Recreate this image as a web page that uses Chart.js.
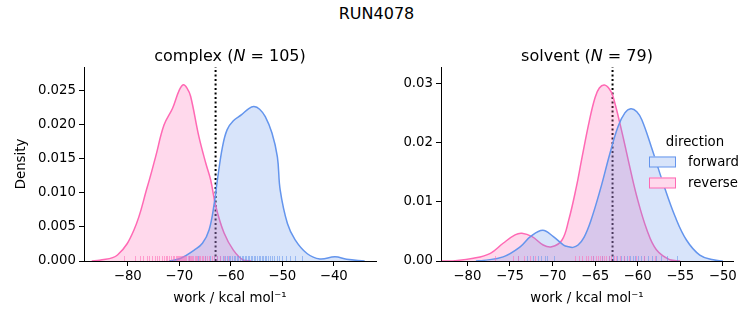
<!DOCTYPE html>
<html>
<head>
<meta charset="utf-8">
<script src="https://cdn.jsdelivr.net/npm/chart.js@4/dist/chart.umd.min.js"></script>
<style>
  body { margin: 0; background: #fff; }
  #wrap { position: relative; width: 753px; height: 325px; font-family: "DejaVu Sans", sans-serif; }
  #suptitle { position: absolute; left: 0; top: 4px; width: 753px; text-align: center; font-size: 16px; line-height: 19px; color: #000; }
  canvas { position: absolute; top: 0; }
</style>
</head>
<body>
<div id="wrap">
  <div id="suptitle">RUN4078</div>
  <canvas id="complex" width="380" height="325" style="left:0"></canvas>
  <canvas id="solvent" width="373" height="325" style="left:380px"></canvas>
</div>
<script>
// KDE of work values, complex leg
const complexFwdWork = [-72.0, -69.7, -67.1, -65.5, -64.2, -63.2, -62.6, -61.6, -60.7, -59.5, -57.9, -56.5, -55.5, -54.4, -53.3, -52.0, -50.95, -50.4, -49.0, -47.5, -45.2, -42.7, -39.75, -37.5, -34.0];
const complexFwdDensity = [0, 0.0004, 0.0016, 0.0026, 0.0046, 0.0085, 0.0119, 0.0168, 0.0193, 0.0206, 0.0215, 0.0224, 0.02268, 0.0223, 0.0212, 0.0188, 0.0153, 0.0104, 0.0055, 0.0031, 0.0011, 0.0003, 0.00063, 0.00025, 0];
const complexRevWork = [-87.0, -85.5, -82.0, -78.8, -76.2, -74.6, -72.95, -71.3, -70.0, -69.2, -68.5, -67.8, -66.2, -64.85, -63.9, -62.9, -61.3, -59.5, -57.5, -56.0];
const complexRevDensity = [0, 0.0001, 0.00088, 0.00456, 0.0109, 0.0153, 0.0200, 0.02245, 0.0251, 0.02588, 0.0254, 0.0242, 0.0183, 0.01436, 0.0119, 0.0080, 0.0041, 0.0016, 0.0001, 0];

// KDE of work values, solvent leg
const solventFwdWork = [-79.0, -78.1, -75.8, -73.8, -72.6, -71.15, -69.9, -68.7, -68.1, -67.6, -67.0, -66.3, -65.5, -64.4, -63.25, -62.3, -61.5, -60.8, -60.1, -59.5, -58.4, -57.0, -55.6, -54.25, -52.7, -51.1, -50.0];
const solventFwdDensity = [0, 0.0001, 0.0007, 0.0024, 0.0041, 0.0052, 0.0041, 0.0027, 0.0024, 0.0023, 0.0027, 0.0040, 0.0068, 0.0120, 0.0182, 0.0227, 0.0250, 0.0257, 0.0252, 0.0238, 0.0193, 0.0131, 0.0075, 0.0035, 0.0010, 0.0002, 0];
const solventRevWork = [-83.0, -81.6, -79.3, -77.3, -75.8, -74.4, -73.6, -72.4, -71.1, -70.1, -68.9, -68.1, -67.2, -66.6, -65.7, -65.0, -64.5, -63.9, -63.3, -62.9, -61.9, -61.1, -60.1, -58.9, -57.8, -56.2, -55.0];
const solventRevDensity = [0, 0.00005, 0.00045, 0.0013, 0.0030, 0.0044, 0.00467, 0.0041, 0.0027, 0.0024, 0.0035, 0.0069, 0.0125, 0.0170, 0.0235, 0.0276, 0.0292, 0.0297, 0.0290, 0.0278, 0.0221, 0.0170, 0.0109, 0.0052, 0.0019, 0.0002, 0];

// individual work samples (rug)
const complexFwdRug = [-68.2, -66.4, -65.0, -64.1, -63.3, -62.6, -62.1, -61.6, -61.2, -60.8, -60.4, -60.1, -59.7, -59.4, -59.1, -58.8, -58.5, -58.2, -57.9, -57.6, -57.3, -57.0, -56.7, -56.4, -56.1, -55.8, -55.5, -55.2, -54.9, -54.6, -54.3, -54.0, -53.7, -53.4, -53.1, -52.8, -52.4, -52.0, -51.6, -51.1, -50.6, -50.0, -49.3, -48.5, -47.6, -46.2];
const complexRevRug = [-80.8, -78.6, -77.6, -77.0, -76.3, -75.8, -75.3, -74.8, -74.4, -73.9, -73.4, -73.0, -72.6, -72.3, -71.9, -71.6, -71.3, -71.0, -70.7, -70.5, -70.2, -70.0, -69.8, -69.6, -69.4, -69.2, -69.0, -68.8, -68.6, -68.4, -68.2, -68.0, -67.8, -67.5, -67.3, -67.0, -66.8, -66.5, -66.2, -65.9, -65.6, -65.3, -65.0, -64.6, -64.2, -63.7, -63.2, -62.6, -62.0, -61.3, -60.5];
const solventFwdRug = [-74.0, -73.0, -72.3, -71.7, -71.3, -70.9, -70.6, -69.8, -65.3, -64.2, -63.4, -62.9, -62.4, -62.0, -61.6, -61.2, -60.9, -60.6, -60.3, -60.0, -59.6, -59.2, -58.8, -58.3, -57.8, -57.2, -56.5, -55.4];
const solventRevRug = [-76.8, -74.6, -74.0, -73.4, -72.6, -72.1, -67.4, -66.9, -66.5, -66.1, -65.8, -65.5, -65.2, -64.9, -64.7, -64.4, -64.2, -63.9, -63.7, -63.4, -63.1, -62.8, -62.5, -62.1, -61.6, -61.0, -60.2, -59.2, -58.0];

// free energy estimate (dotted line)
const complexEstimate = -62.95;
const solventEstimate = -62.95;

const complexXTicks = [-80, -70, -60, -50, -40];
const complexYTicks = [0, 0.005, 0.010, 0.015, 0.020, 0.025];
const solventXTicks = [-80, -75, -70, -65, -60, -55, -50];
const solventYTicks = [0, 0.01, 0.02, 0.03];

const FWD = 'rgb(100,149,237)';
const REV = 'rgb(255,105,180)';
const FWD_FILL = 'rgba(100,149,237,0.25)';
const REV_FILL = 'rgba(255,105,180,0.25)';
const FWD_RUG = 'rgba(100,149,237,0.55)';
const REV_RUG = 'rgba(255,105,180,0.55)';
const FONT = {family: 'DejaVu Sans', size: 13.3};

function pts(xs, ys) {
  return xs.map((x, i) => ({x: x, y: ys[i]}));
}

function curve(xs, ys, line, fill, label) {
  return {
    label: label,
    data: pts(xs, ys),
    showLine: true,
    borderColor: line,
    backgroundColor: fill,
    borderWidth: 1.5,
    pointRadius: 0,
    tension: 0.4,
    fill: 'origin',
  };
}

// rugs, subplot title and the legend box
const extras = {
  id: 'extras',
  afterDatasetsDraw(chart, args, opts) {
    const {ctx, chartArea, scales} = chart;
    ctx.save();
    ctx.lineWidth = 1;
    opts.rugs.forEach((r) => {
      ctx.strokeStyle = r.color;
      r.values.forEach((v) => {
        const x = Math.round(scales.x.getPixelForValue(v)) + 0.5;
        ctx.beginPath();
        ctx.moveTo(x, chartArea.bottom);
        ctx.lineTo(x, chartArea.bottom - 5);
        ctx.stroke();
      });
    });
    ctx.restore();
  },
  afterDraw(chart, args, opts) {
    const {ctx, chartArea} = chart;
    ctx.save();
    ctx.fillStyle = '#000';
    ctx.textBaseline = 'alphabetic';
    const parts = [[opts.name + ' (', ''], ['N', 'italic '], [' = ' + opts.n + ')', '']];
    let total = 0;
    parts.forEach((p) => {
      ctx.font = p[1] + '16px "DejaVu Sans"';
      total += ctx.measureText(p[0]).width;
    });
    let x = (chartArea.left + chartArea.right) / 2 - total / 2;
    parts.forEach((p) => {
      ctx.font = p[1] + '16px "DejaVu Sans"';
      ctx.fillText(p[0], x, 60.5);
      x += ctx.measureText(p[0]).width;
    });

    if (opts.legend) {
      const lx = chartArea.right - 84;
      ctx.font = '13.3px "DejaVu Sans"';
      ctx.textAlign = 'center';
      ctx.fillText('direction', lx + 46, 146);
      ctx.textAlign = 'left';
      [['forward', FWD, FWD_FILL, 156.5], ['reverse', REV, REV_FILL, 177.5]].forEach((e) => {
        ctx.fillStyle = '#fff';
        ctx.fillRect(lx, e[3], 27, 10.5);
        ctx.fillStyle = e[2];
        ctx.fillRect(lx, e[3], 27, 10.5);
        ctx.strokeStyle = e[1];
        ctx.lineWidth = 1;
        ctx.strokeRect(lx + 0.5, e[3] + 0.5, 26, 10);
        ctx.fillStyle = '#000';
        ctx.fillText(e[0], lx + 39, e[3] + 9.5);
      });
    }
    ctx.restore();
  },
};

function axis(min, max, ticks, fmt, size, title, titlePad) {
  return {
    type: 'linear',
    min: min,
    max: max,
    afterBuildTicks: (s) => {
      s.ticks = ticks.map((v) => ({value: v}));
    },
    afterFit: (s) => {
      if (s.isHorizontal()) s.height = size; else s.width = size;
    },
    grid: {drawOnChartArea: false, drawTicks: true, tickLength: 5, color: '#000', lineWidth: 1},
    border: {display: true, color: '#000', width: 1},
    ticks: {color: '#000', font: FONT, padding: 3, maxRotation: 0, autoSkip: false, callback: fmt},
    title: {display: !!title, text: title, color: '#000', font: FONT, padding: titlePad},
  };
}

const minus = (v) => String(v).replace('-', '\u2212');

function makeChart(id, c) {
  return new Chart(document.getElementById(id), {
    type: 'scatter',
    data: {
      datasets: [
        curve(c.fwdWork, c.fwdDensity, FWD, FWD_FILL, 'forward'),
        curve(c.revWork, c.revDensity, REV, REV_FILL, 'reverse'),
        {
          label: 'estimate',
          data: [{x: c.estimate, y: 0}, {x: c.estimate, y: c.yMax}],
          showLine: true,
          borderColor: '#000',
          borderWidth: 2,
          borderDash: [2, 2.5],
          pointRadius: 0,
          fill: false,
        },
      ],
    },
    options: {
      responsive: false,
      animation: false,
      events: [],
      layout: {padding: c.padding},
      plugins: {
        legend: {display: false},
        tooltip: {enabled: false},
        extras: {
          name: c.name,
          n: c.n,
          legend: c.legend,
          rugs: [{values: c.fwdRug, color: FWD_RUG}, {values: c.revRug, color: REV_RUG}],
        },
      },
      scales: {
        x: axis(c.xMin, c.xMax, c.xTicks, minus, 64, 'work / kcal mol\u207B\u00B9', {top: 0, bottom: 18}),
        y: axis(0, c.yMax, c.yTicks, c.yFmt, c.yWidth, c.yTitle, {top: 14, bottom: 0}),
      },
    },
    plugins: [extras],
  });
}

makeChart('complex', {
  name: 'complex', n: 105, legend: false,
  fwdWork: complexFwdWork, fwdDensity: complexFwdDensity,
  revWork: complexRevWork, revDensity: complexRevDensity,
  fwdRug: complexFwdRug, revRug: complexRevRug,
  estimate: complexEstimate,
  xMin: -88.5, xMax: -31.8, xTicks: complexXTicks,
  yMax: 0.0285, yTicks: complexYTicks, yFmt: (v) => v.toFixed(3),
  yWidth: 84, yTitle: 'Density',
  padding: {top: 67, right: 4, left: 0, bottom: 0},
});

makeChart('solvent', {
  name: 'solvent', n: 79, legend: true,
  fwdWork: solventFwdWork, fwdDensity: solventFwdDensity,
  revWork: solventRevWork, revDensity: solventRevDensity,
  fwdRug: solventFwdRug, revRug: solventRevRug,
  estimate: solventEstimate,
  xMin: -83.1, xMax: -48.8, xTicks: solventXTicks,
  yMax: 0.03275, yTicks: solventYTicks, yFmt: (v) => v.toFixed(2),
  yWidth: 61, yTitle: '',
  padding: {top: 67, right: 20, left: 0, bottom: 0},
});
</script>
</body>
</html>
